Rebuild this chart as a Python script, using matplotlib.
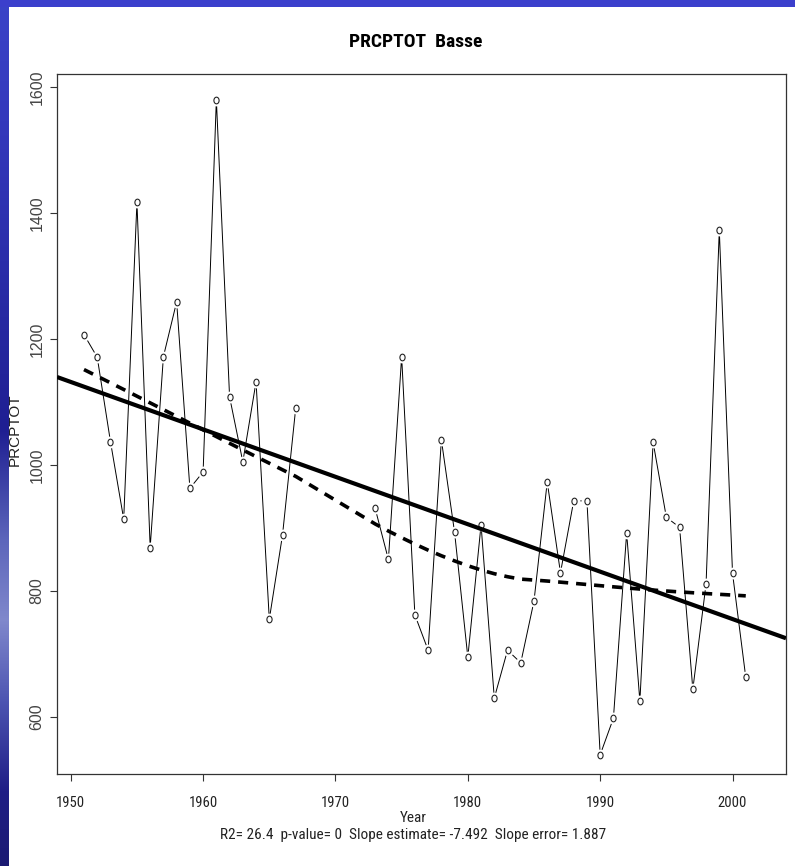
import numpy as np
import matplotlib
matplotlib.use("Agg")
import matplotlib.pyplot as plt
from matplotlib import font_manager
from matplotlib.path import Path
from matplotlib.transforms import Affine2D

# ---------------- data ----------------
years = list(range(1951, 2002))
prcptot = [1207, 1171, 1037, 914, 1417, 869, 1172, 1259, 963, 989,
           1580, 1108, 1005, 1132, 755, 889, 1091,
           np.nan, np.nan, np.nan, np.nan, np.nan,
           931, 850, 1172, 762, 706, 1040, 893, 695,
           905, 630, 706, 686, 784, 973, 829, 943, 943, 540,
           598, 892, 625, 1036, 917, 901, 644, 811, 1373, 828, 663]
x_ticks = [1950, 1960, 1970, 1980, 1990, 2000]
y_ticks = [600, 800, 1000, 1200, 1400, 1600]
title = "PRCPTOT  Basse"
x_label = "Year"
y_label = "PRCPTOT"
stats_text = "R2= 26.4  p-value= 0  Slope estimate= -7.492  Slope error= 1.887"

# ---------------- helpers ----------------
def pick_font(cands):
    for c in cands:
        try:
            font_manager.findfont(font_manager.FontProperties(family=c),
                                  fallback_to_default=False)
            return c
        except Exception:
            pass
    return "DejaVu Sans"

NARROW = pick_font(["Liberation Sans Narrow", "Roboto Condensed", "DejaVu Sans"])
NORMAL = pick_font(["Liberation Sans", "Arial", "DejaVu Sans"])


def lowess(x, y, f=2/3, iters=3):
    x = np.asarray(x, float)
    y = np.asarray(y, float)
    n = len(x)
    ns = max(min(int(f * n + 1e-7), n), 2)
    rw = np.ones(n)
    rng = x.max() - x.min()
    ys = np.zeros(n)
    for it in range(iters + 1):
        for i in range(n):
            d = np.abs(x - x[i])
            h = np.sort(d)[ns - 1]
            if h > 0:
                r = d / h
                w = np.where(r <= 0.999, (1 - r ** 3) ** 3, 0.0)
                w = np.where(d <= 0.001 * h, 1.0, w)
            else:
                w = (d == 0).astype(float)
            w = w * rw
            s = w.sum()
            if s <= 0:
                ys[i] = y[i]
                continue
            w = w / s
            a = np.sum(w * x)
            b = x[i] - a
            c = np.sum(w * (x - a) ** 2)
            if np.sqrt(c) > 0.001 * rng:
                b = b / c
                w = w * (b * (x - a) + 1.0)
            ys[i] = np.sum(w * y)
        if it == iters:
            break
        res = y - ys
        cmad = 6 * np.median(np.abs(res))
        if cmad < 1e-7 * np.mean(np.abs(y)):
            break
        r = np.abs(res)
        rw = np.where(r <= 0.001 * cmad, 1.0,
                      np.where(r > 0.999 * cmad, 0.0, (1 - (r / cmad) ** 2) ** 2))
    return ys

# ---------------- figure ----------------
W, H = 795, 866
fig = plt.figure(figsize=(W / 100, H / 100), dpi=100)
fig.patch.set_facecolor("white")

# slide background: blue strips at the left and top
bg = np.ones((H, W, 3))
stops_y = [0, 120, 260, 430, 540, 620, 700, 790, 866]
stops_c = ["#3a44c8", "#3438bc", "#2b2eaa", "#1f1f92", "#5d66bb",
           "#8088cc", "#4d55b2", "#1f1e86", "#1b1a72"]
rgb = np.array([matplotlib.colors.to_rgb(c) for c in stops_c])
yy = np.arange(H)
grad = np.stack([np.interp(yy, stops_y, rgb[:, k]) for k in range(3)], axis=1)
bg[:, :9, :] = grad[:, None, :]
top = np.array(matplotlib.colors.to_rgb("#3b3fcc"))
bg[:7, :, :] = top
fig.figimage(bg, xo=0, yo=0, origin="upper", zorder=-10)

ax = fig.add_axes([57 / W, 1 - 774 / H, (786 - 57) / W, (774 - 74) / H])
ax.set_facecolor("white")

xa = np.array(years, float)
ya = np.array(prcptot, float)
ok = ~np.isnan(ya)

# data line with gaps around points (R type="b")
ax.plot(xa, ya, color="black", lw=0.7, zorder=2)
ax.plot(xa[ok], ya[ok], ls="none", marker="o", ms=8.5, mfc="white", mec="none",
        zorder=3)
ell = Path.unit_circle().transformed(Affine2D().scale(0.78, 1.0))
ax.plot(xa[ok], ya[ok], ls="none", marker=ell, ms=4.8, mfc="none", mec="#222222",
        mew=0.8, zorder=4)

# linear trend (abline) and lowess smooth
slope, intercept = np.polyfit(xa[ok], ya[ok], 1)
xlim = (1948.96, 2004.04)
xl = np.array(xlim)
ax.plot(xl, intercept + slope * xl, color="black", lw=3.0, zorder=5,
        solid_capstyle="butt")
sm = lowess(xa[ok], ya[ok])
ax.plot(xa[ok], sm, color="black", lw=2.6, zorder=5, dashes=(2.8, 2.2),
        dash_capstyle="butt")

ax.set_xlim(*xlim)
ax.set_ylim(509.5, 1620.6)
ax.set_xticks(x_ticks)
ax.set_yticks(y_ticks)
ax.set_xticklabels([str(v) for v in x_ticks], fontsize=10.5, family=NARROW,
                   color="#222222")
ax.set_yticklabels([str(v) for v in y_ticks], fontsize=11.5, family=NORMAL,
                   color="#444444", rotation=90, va="center")
ax.tick_params(axis="both", direction="out", length=5, width=0.8,
               color="#333333")
ax.tick_params(axis="x", pad=11)
ax.tick_params(axis="y", pad=4)
for sp in ax.spines.values():
    sp.set_linewidth(0.9)
    sp.set_color("#333333")

fig.text(416 / W, 1 - 42 / H, title, ha="center", va="center", fontsize=14,
         fontweight="bold", family=NARROW)
fig.text(413 / W, 1 - 818 / H, x_label, ha="center", va="center", fontsize=11,
         family=NARROW, color="#222222")
fig.text(413 / W, 1 - 835 / H, stats_text, ha="center", va="center",
         fontsize=11, family=NARROW, color="#222222")
fig.text(15 / W, 1 - 430 / H, y_label, ha="center", va="center", fontsize=11,
         family=NORMAL, rotation=90, color="#222222")

fig.savefig("out.png", dpi=100, facecolor=fig.get_facecolor())
